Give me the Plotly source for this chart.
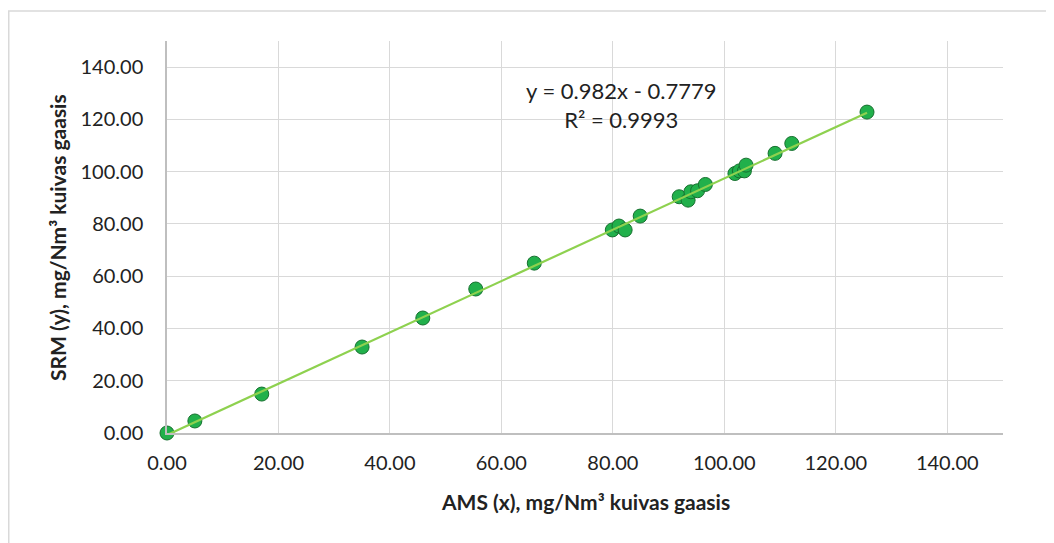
import plotly.graph_objects as go

ams_x = [0.0, 5.0, 17.0, 35.0, 45.9, 55.4, 65.9, 79.9, 81.1, 82.2, 84.9,
         91.9, 93.5, 94.0, 95.2, 96.6, 101.9, 102.7, 103.6, 103.9, 109.1, 112.1, 125.6]
srm_y = [0.0, 4.6, 14.9, 32.9, 44.0, 55.1, 65.0, 77.7, 79.2, 77.7, 83.0,
         90.4, 89.1, 92.3, 92.7, 95.1, 99.3, 100.3, 100.3, 102.5, 107.0, 110.8, 122.8]
slope = 0.982
intercept = -0.7779
r2 = 0.9993
tick_vals = [0, 20, 40, 60, 80, 100, 120, 140]
x_title = "AMS (x), mg/Nm³ kuivas gaasis"
y_title = "SRM (y), mg/Nm³ kuivas gaasis"

FONT = "Lato, 'Open Sans', sans-serif"
TXT = "#222222"

line_x = [min(ams_x), max(ams_x)]
line_y = [slope * v + intercept for v in line_x]

fig = go.Figure()
fig.add_trace(go.Scatter(x=ams_x, y=srm_y, mode="markers", cliponaxis=False,
                         marker=dict(size=14, color="#21b04b",
                                     line=dict(color="#17702f", width=1)),
                         showlegend=False))
fig.add_trace(go.Scatter(x=line_x, y=line_y, mode="lines", cliponaxis=False,
                         line=dict(color="#8ed14f", width=2.2),
                         showlegend=False))

axis_common = dict(range=[0, 150], tickvals=tick_vals, tickformat=".2f",
                   showgrid=True, gridcolor="#d9d9d9", gridwidth=1.3,
                   showline=True, linecolor="#bfbfbf", linewidth=1.5,
                   zeroline=False, ticks="", automargin=False,
                   tickfont=dict(family=FONT, size=20, color=TXT))

fig.update_xaxes(**axis_common, ticklabelstandoff=11)
fig.update_yaxes(**axis_common, ticklabelstandoff=18)

fig.add_annotation(x=0.5, y=-0.176, xref="paper", yref="paper", showarrow=False,
                   xanchor="center", yanchor="middle",
                   text=f"<b>{x_title}</b>", font=dict(family=FONT, size=21, color=TXT))
fig.add_annotation(x=-0.1316, y=0.5, xref="paper", yref="paper", showarrow=False,
                   xanchor="center", yanchor="middle", textangle=-90,
                   text=f"<b>{y_title}</b>", font=dict(family=FONT, size=21, color=TXT))

fig.add_annotation(x=0.543, y=0.837, xref="paper", yref="paper", showarrow=False,
                   xanchor="center", yanchor="middle",
                   text=f"y = {slope}x - {abs(intercept)}<br>R² = {r2}",
                   font=dict(family=FONT, size=22, color=TXT), align="center")

fig.add_shape(type="rect", xref="paper", yref="paper",
              x0=-0.1893, x1=1.2, y0=-0.4, y1=1.0765,
              line=dict(color="#d9d9d9", width=1.5), layer="below")

# page body has an 8px margin, so offsets are compensated here
fig.update_layout(width=1054, height=543,
                  margin=dict(l=159, r=59, t=33, b=118),
                  plot_bgcolor="white", paper_bgcolor="white")

fig.write_html("out.html")
